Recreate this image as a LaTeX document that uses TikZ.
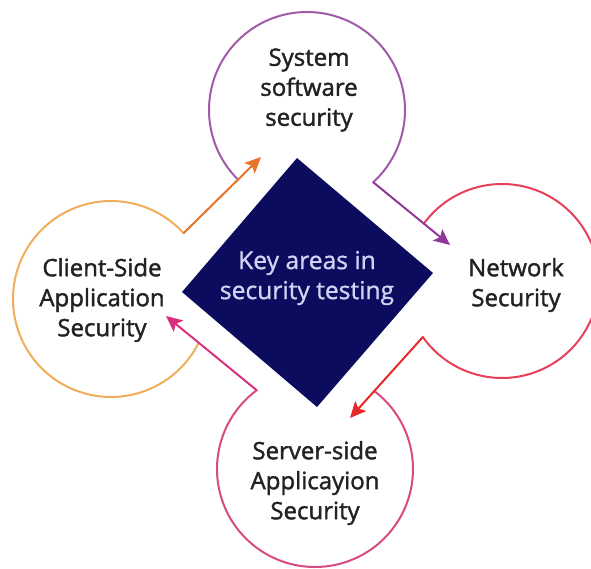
\documentclass[tikz,border=0pt]{standalone}
\usepackage{fontspec}
\setmainfont{Open Sans}
\newfontfamily\labfont{Open Sans}[FakeBold=1.6]
\newfontfamily\hubfont{Open Sans}[FakeBold=1.0]
\usetikzlibrary{arrows.meta}
\definecolor{ringL}{HTML}{F0AE5C}
\definecolor{ringT}{HTML}{A05AA8}
\definecolor{ringR}{HTML}{E8405A}
\definecolor{ringB}{HTML}{D84A82}
\definecolor{arrL}{HTML}{E8742A}
\definecolor{arrT}{HTML}{90389A}
\definecolor{arrR}{HTML}{E82828}
\definecolor{arrB}{HTML}{D8307C}
\definecolor{hubcol}{HTML}{0C0C5E}
\definecolor{hubtext}{HTML}{D2D2F5}
\definecolor{labtext}{HTML}{222222}
\tikzset{
  ring/.style={line width=1.5pt, line cap=round},
  flow/.style={line width=1.5pt, line cap=round, -{Stealth[length=12pt,width=11pt,inset=2.5pt]}},
  lab/.style={text=labtext, align=center, font=\labfont\fontsize{18}{22.5}\selectfont, inner sep=0pt},
  hublab/.style={text=hubtext, align=center, font=\hubfont\fontsize{18.5}{22.5}\selectfont, inner sep=0pt}
}
\begin{document}
\begin{tikzpicture}[x=0.75pt,y=0.75pt]
\useasboundingbox (0,0) rectangle (591,568);
\clip (0,0) rectangle (591,568);
% circle centres
\coordinate (Lcen) at (111,269);
\coordinate (Tcen) at (307,458);
\coordinate (Rcen) at (502,287);
\coordinate (Bcen) at (315,99);
% arc start points and corners
\coordinate (Ls) at ([shift={(-26.5:73.5pt)}]Lcen);
\coordinate (Lc) at ([shift={(-317.8:73.5pt)}]Lcen);
\coordinate (Ts) at ([shift={(-134.8:73.5pt)}]Tcen);
\coordinate (Tc) at ([shift={(-407.5:73.5pt)}]Tcen);
\coordinate (Rs) at ([shift={(-216.3:72.75pt)}]Rcen);
\coordinate (Rc) at ([shift={(-504.7:72.75pt)}]Rcen);
\coordinate (Bs) at ([shift={(52.8:73.5pt)}]Bcen);
\coordinate (Bc) at ([shift={(-233.5:73.5pt)}]Bcen);
% arrow tips
\coordinate (Lt) at (261,411);
\coordinate (Tt) at (450,323);
\coordinate (Rt) at (350,150);
\coordinate (Bt) at (166,252);
% hub diamond
\fill[hubcol] (297,410) -- (433,295) -- (317,161) -- (182,276) -- cycle;
\node[hublab] (hub) at (307,290) {Key areas in\\security testing};
% rings
\draw[ring, ringL] (Ls) arc[start angle=-26.5, end angle=-317.8, radius=73.5pt];
\draw[ring, ringT] (Ts) arc[start angle=-134.8, end angle=-407.5, radius=73.5pt];
\draw[ring, ringR] (Rs) arc[start angle=-216.3, end angle=-504.7, radius=72.75pt];
\draw[ring, ringB] (Bs) arc[start angle=52.8, end angle=-233.5, radius=73.5pt];
% flow arrows
\draw[flow, arrL] (Lc) -- (Lt);
\draw[flow, arrT] (Tc) -- (Tt);
\draw[flow, arrR] (Rc) -- (Rt);
\draw[flow, arrB] (Bc) -- (Bt);
% labels
\node[lab] (labT) at (309,478) {System\\software\\security};
\node[lab] (labL) at (102,268) {Client-Side\\Application\\Security};
\node[lab] (labR) at (516,283) {Network\\Security};
\node[lab] (labB) at (315,85) {Server-side\\Applicayion\\Security};
\end{tikzpicture}
\end{document}
